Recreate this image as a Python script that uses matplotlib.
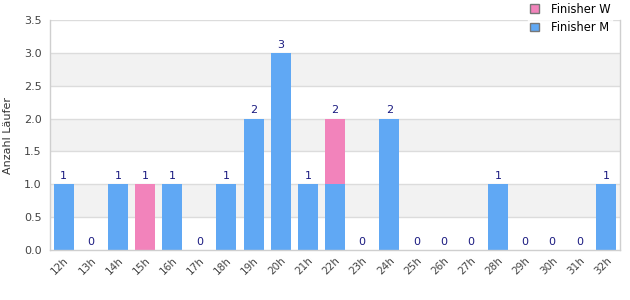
import matplotlib.pyplot as plt
import numpy as np

hours = ['12h', '13h', '14h', '15h', '16h', '17h', '18h', '19h', '20h', '21h', '22h',
         '23h', '24h', '25h', '26h', '27h', '28h', '29h', '30h', '31h', '32h']
finisher_m = [1, 0, 1, 0, 1, 0, 1, 2, 3, 1, 1, 0, 2, 0, 0, 0, 1, 0, 0, 0, 1]
finisher_w = [0, 0, 0, 1, 0, 0, 0, 0, 0, 0, 1, 0, 0, 0, 0, 0, 0, 0, 0, 0, 0]

blue = '#60a8f4'
pink = '#f283bb'
grid_col = '#dcdcdc'

fig = plt.figure(figsize=(6.3, 3.0), dpi=100)
ax = fig.add_axes([50 / 630, 50 / 300, 570 / 630, 230 / 300])

x = np.arange(len(hours))
m = np.array(finisher_m)
w = np.array(finisher_w)

# alternating background bands
for lo in [0.5, 1.5, 2.5]:
    ax.axhspan(lo, lo + 0.5, color='#f2f2f2', zorder=0, lw=0)
for yv in np.arange(0.5, 3.6, 0.5):
    ax.axhline(yv, color=grid_col, lw=1, zorder=1)

ax.bar(x, m, width=0.74, color=blue, zorder=2, label='Finisher M')
ax.bar(x, w, width=0.74, bottom=m, color=pink, zorder=2, label='Finisher W')

tot = m + w
for xi, t in zip(x, tot):
    ax.text(xi, t + 0.05, str(t), ha='center', va='bottom', fontsize=8, color='#1a1a80')

ax.set_xlim(-0.5, len(hours) - 0.5)
ax.set_ylim(0, 3.5)
ax.set_yticks(np.arange(0, 3.6, 0.5))
ax.set_yticklabels([f'{v:.1f}' for v in np.arange(0, 3.6, 0.5)], fontsize=8, color='#444444')
ax.set_xticks(x)
ax.set_xticklabels(hours, rotation=45, ha='right', rotation_mode='anchor', fontsize=7.5, color='#444444')
ax.tick_params(length=0, pad=6)
ax.tick_params(axis='x', pad=4)
for s in ax.spines.values():
    s.set_color('#cfcfcf')
    s.set_linewidth(1)
ax.spines['top'].set_visible(False)
ax.set_ylabel('Anzahl Läufer', fontsize=8, color='#333333', labelpad=8)

handles, labels = ax.get_legend_handles_labels()
leg = fig.legend(handles[::-1], labels[::-1], loc='upper right', bbox_to_anchor=(612 / 630, 299 / 300),
                 fontsize=8.3, frameon=True, fancybox=False, handlelength=0.8, handleheight=0.8,
                 handletextpad=1.0, labelspacing=0.45, borderpad=0.15, borderaxespad=0)
leg.get_frame().set_edgecolor('white')
leg.get_frame().set_facecolor('white')
for p in leg.get_patches():
    p.set_edgecolor('#777777')
    p.set_linewidth(1)

fig.savefig('out.png', dpi=100)
